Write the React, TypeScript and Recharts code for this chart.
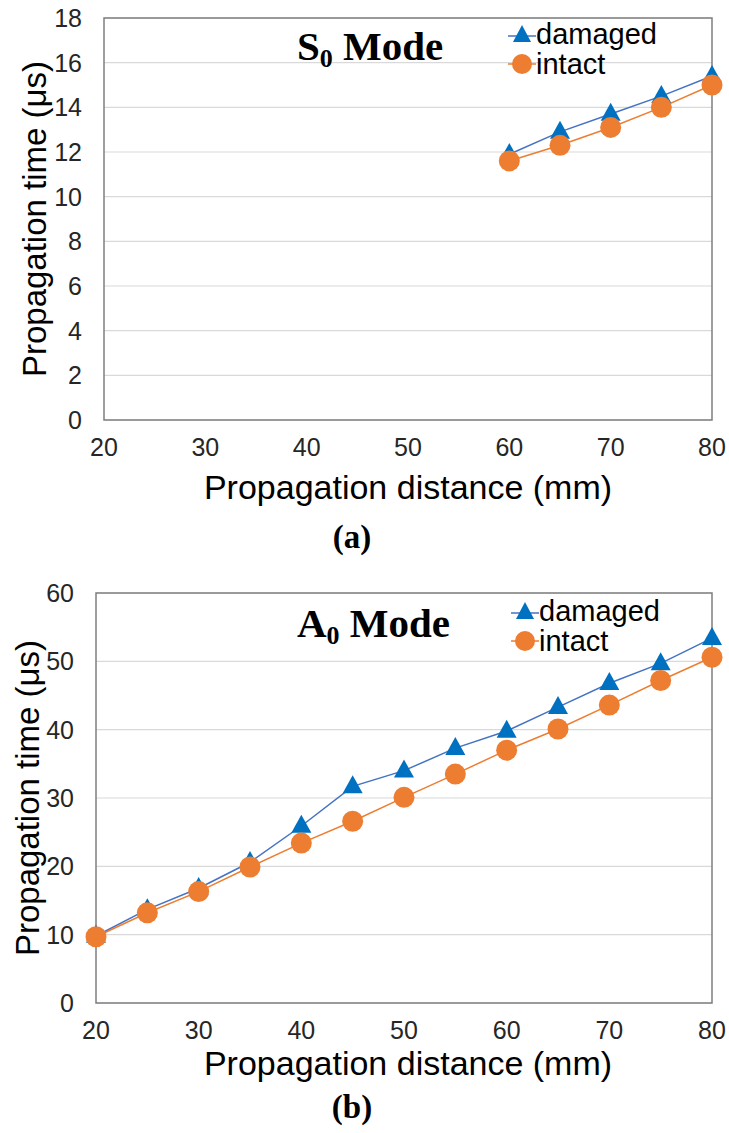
import React from "react";
import { LineChart, Line, XAxis, YAxis, CartesianGrid, ReferenceArea } from "recharts";

// propagation distance (mm)
const distS0 = [60, 65, 70, 75, 80];
const damagedS0 = [11.9, 12.9, 13.7, 14.5, 15.4];
const intactS0 = [11.6, 12.3, 13.1, 14.0, 15.0];

const distA0 = [20, 25, 30, 35, 40, 45, 50, 55, 60, 65, 70, 75, 80];
const damagedA0 = [9.8, 13.7, 16.8, 20.6, 25.9, 31.7, 34.0, 37.3, 39.8, 43.3, 46.8, 49.7, 53.4];
const intactA0 = [9.7, 13.2, 16.3, 19.9, 23.4, 26.6, 30.1, 33.5, 37.0, 40.1, 43.6, 47.2, 50.6];

const xTicks = [20, 30, 40, 50, 60, 70, 80];
const yTicksS0 = [0, 2, 4, 6, 8, 10, 12, 14, 16, 18];
const yTicksA0 = [0, 10, 20, 30, 40, 50, 60];

const BLUE = "#0070c0";
const BLUE_LINE = "#4472c4";
const ORANGE = "#ed7d31";
const SANS = "'Liberation Sans', Arial, sans-serif";
const SERIF = "'Liberation Serif', 'Times New Roman', serif";

const Triangle = (props: any) => {
    const { cx, cy } = props;
    if (cx == null || cy == null) return null;
    const w = 20, h = 18;
    return <path d={`M${cx},${cy - h * 0.62} L${cx + w / 2},${cy + h * 0.38} L${cx - w / 2},${cy + h * 0.38} Z`} fill={BLUE} />;
};

const Circle = (props: any) => {
    const { cx, cy } = props;
    if (cx == null || cy == null) return null;
    return <circle cx={cx} cy={cy} r={10.5} fill={ORANGE} />;
};

const LegendBox = ({ left, top }: { left: number; top: number }) => (
    <div style={{ position: "absolute", left, top, fontFamily: SANS, fontSize: 29, color: "#000", lineHeight: "30px" }}>
        <div style={{ display: "flex", alignItems: "center" }}>
            <svg width={28} height={22}>
                <line x1={0} y1={13} x2={28} y2={13} stroke={BLUE_LINE} strokeWidth={1.5} />
                <path d="M14,2 L23,19 L5,19 Z" fill={BLUE} />
            </svg>
            <span>damaged</span>
        </div>
        <div style={{ display: "flex", alignItems: "center" }}>
            <svg width={28} height={22}>
                <line x1={0} y1={11} x2={28} y2={11} stroke={ORANGE} strokeWidth={1.5} />
                <circle cx={14} cy={11} r={10} fill={ORANGE} />
            </svg>
            <span>intact</span>
        </div>
    </div>
);

interface PanelProps {
    dist: number[];
    damaged: number[];
    intact: number[];
    yTicks: number[];
    yMax: number;
    height: number;
    plotTop: number;
    plotHeight: number;
    yAxisWidth: number;
    xTitleY: number;
    yTitleX: number;
}

function Panel(p: PanelProps) {
    const data = p.dist.map((d, i) => ({ dist: d, damaged: p.damaged[i], intact: p.intact[i] }));
    const xAxisHeight = p.height - p.plotTop - p.plotHeight;
    return (
        <LineChart width={729} height={p.height} data={data} margin={{ top: p.plotTop, right: 17, left: 0, bottom: 0 }}>
            <CartesianGrid vertical={false} stroke="#d9d9d9" strokeWidth={1.2} />
            <ReferenceArea x1={20} x2={80} y1={0} y2={p.yMax} fill="none" stroke="#7f7f7f" strokeWidth={1.5} ifOverflow="extendDomain" />
            <XAxis
                dataKey="dist"
                type="number"
                domain={[20, 80]}
                ticks={xTicks}
                height={xAxisHeight}
                axisLine={false}
                tickLine={false}
                tickSize={0}
                tickMargin={18}
                tick={{ fill: "#262626", fontSize: 25, fontFamily: SANS }}
                label={{
                    content: () => (
                        <text x={408} y={p.xTitleY} textAnchor="middle" dominantBaseline="central" fontFamily={SANS} fontSize={34} fill="#000">
                            Propagation distance (mm)
                        </text>
                    ),
                }}
            />
            <YAxis
                type="number"
                domain={[0, p.yMax]}
                ticks={p.yTicks}
                width={p.yAxisWidth}
                axisLine={false}
                tickLine={false}
                tickSize={0}
                tickMargin={22}
                tick={{ fill: "#262626", fontSize: 25, fontFamily: SANS }}
                label={{
                    content: () => {
                        const cy = p.plotTop + p.plotHeight / 2;
                        return (
                            <text x={p.yTitleX} y={cy} transform={`rotate(-90, ${p.yTitleX}, ${cy})`} textAnchor="middle" dominantBaseline="central" fontFamily={SANS} fontSize={33} fill="#000">
                                Propagation time (μs)
                            </text>
                        );
                    },
                }}
            />
            <Line dataKey="damaged" name="damaged" stroke={BLUE_LINE} strokeWidth={1.5} dot={<Triangle />} activeDot={false} isAnimationActive={false} />
            <Line dataKey="intact" name="intact" stroke={ORANGE} strokeWidth={1.5} dot={<Circle />} activeDot={false} isAnimationActive={false} />
        </LineChart>
    );
}

const modeTitle = (letter: string, left: number, top: number) => (
    <div style={{ position: "absolute", left, top, fontFamily: SERIF, fontWeight: "bold", fontSize: 41, color: "#000", lineHeight: "46px", whiteSpace: "nowrap" }}>
        {letter}
        <sub style={{ fontSize: 26, verticalAlign: "-7px" }}>0</sub> Mode
    </div>
);

export default function App() {
    return (
        <div style={{ position: "absolute", left: 0, top: 0, width: 729, height: 1133, background: "#fff" }}>
            <div style={{ position: "absolute", left: 0, top: 0 }}>
                <Panel
                    dist={distS0}
                    damaged={damagedS0}
                    intact={intactS0}
                    yTicks={yTicksS0}
                    yMax={18}
                    height={530}
                    plotTop={18}
                    plotHeight={402}
                    yAxisWidth={104}
                    xTitleY={487}
                    yTitleX={34}
                />
            </div>
            <div style={{ position: "absolute", left: 0, top: 560 }}>
                <Panel
                    dist={distA0}
                    damaged={damagedA0}
                    intact={intactA0}
                    yTicks={yTicksA0}
                    yMax={60}
                    height={540}
                    plotTop={33}
                    plotHeight={410}
                    yAxisWidth={96}
                    xTitleY={503}
                    yTitleX={27}
                />
            </div>
            <LegendBox left={508} top={19} />
            <LegendBox left={511} top={596} />
            {modeTitle("S", 297, 23)}
            {modeTitle("A", 297, 600)}
            <div style={{ position: "absolute", left: 0, width: 704, top: 519, textAlign: "center", fontFamily: SERIF, fontWeight: "bold", fontSize: 33 }}>(a)</div>
            <div style={{ position: "absolute", left: 0, width: 704, top: 1089, textAlign: "center", fontFamily: SERIF, fontWeight: "bold", fontSize: 33 }}>(b)</div>
        </div>
    );
}
